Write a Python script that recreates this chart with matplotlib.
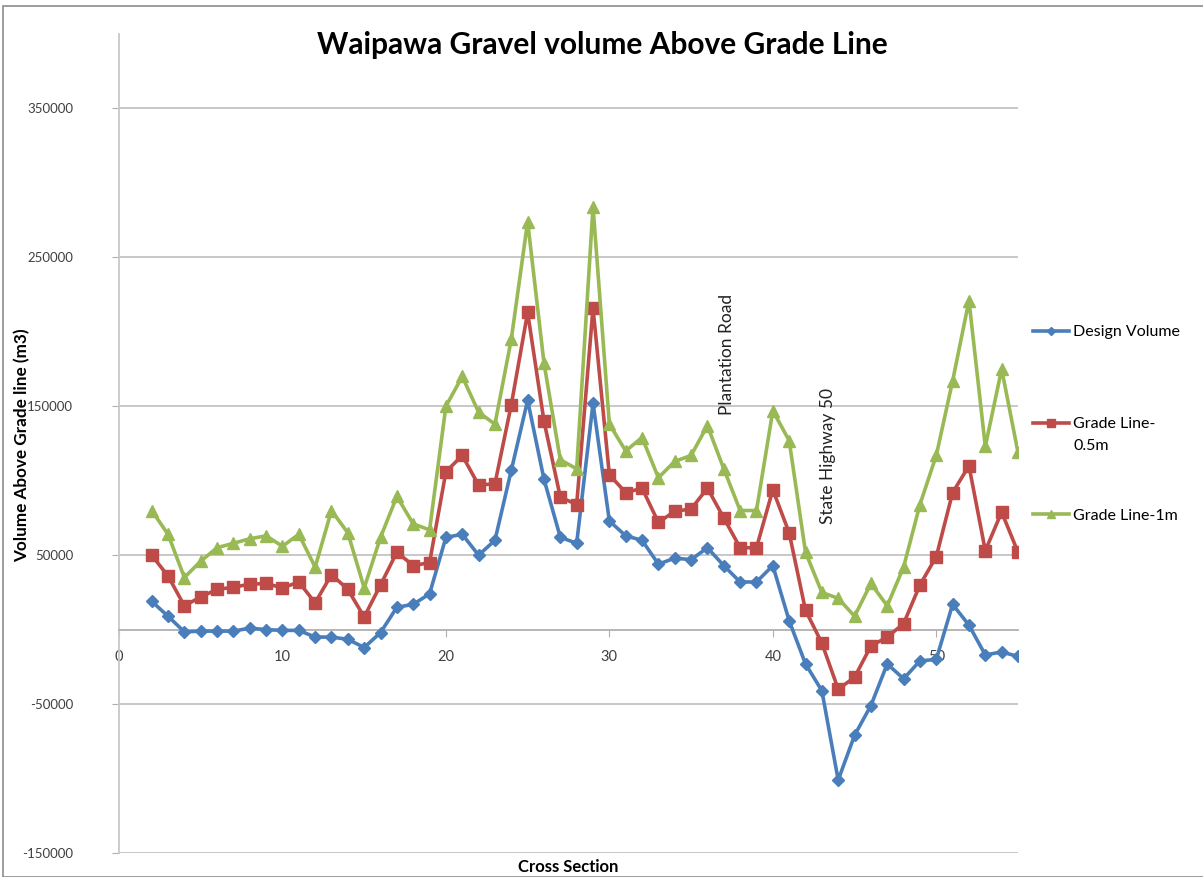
import matplotlib
matplotlib.use("Agg")
import matplotlib.pyplot as plt
from matplotlib.patches import Rectangle

plt.rcParams["font.family"] = ["Lato", "DejaVu Sans"]
plt.rcParams["axes.unicode_minus"] = False

# cross sections 2..55
sections = list(range(2, 56))

design_volume = [
    19000, 9000, -1500, -1000, -1000, -1000, 1000, 0, -500, -500,
    -5000, -5000, -6500, -12000, -2000, 15000, 17000, 24000, 62000, 64000,
    50000, 60000, 107000, 154000, 101000, 62000, 58000, 152000, 73000, 63000,
    60000, 44000, 48000, 47000, 55000, 43000, 32000, 32000, 43000, 6000,
    -23000, -41000, -101000, -71000, -51000, -23000, -33000, -21000, -20000, 17000,
    3000, -17000, -15000, -18000,
]

grade_half = [
    50000, 36000, 16000, 22000, 27000, 28500, 30500, 31000, 28000, 32000,
    18000, 37000, 27000, 8500, 30000, 52000, 43000, 45000, 106000, 117000,
    97000, 98000, 151000, 213000, 140000, 89000, 84000, 216000, 104000, 92000,
    95000, 72000, 79500, 81000, 95000, 75000, 55000, 55000, 94000, 65000,
    13000, -9000, -40000, -32000, -11000, -5000, 4000, 30000, 49000, 92000,
    110000, 53000, 79000, 52000,
]

grade_one = [
    80000, 64000, 35000, 46000, 55000, 58000, 61000, 63000, 56000, 64000,
    42000, 80000, 65000, 28000, 62000, 89500, 71000, 67000, 150000, 170000,
    146000, 138000, 195000, 274000, 179000, 114000, 108000, 284000, 138000, 120000,
    129000, 102000, 113000, 117000, 137000, 108000, 80000, 80000, 147000, 127000,
    52000, 25000, 21000, 9000, 31000, 16000, 42000, 84000, 117000, 167000,
    221000, 123000, 175000, 119000,
]

y_ticks = [-150000, -50000, 50000, 150000, 250000, 350000]
x_ticks = [0, 10, 20, 30, 40, 50]

fig = plt.figure(figsize=(12.03, 8.77), dpi=100)
ax = fig.add_axes([119 / 1203, 24 / 877, 899 / 1203, 819 / 877])

# chart frame
fig.patches.append(Rectangle((3 / 1203, 0), 1.2, 871 / 877, transform=fig.transFigure,
                             fill=False, edgecolor="#8c8c8c", linewidth=1.2))

ax.plot(sections, design_volume, color="#4a7ebb", lw=2.6, marker="D", ms=6,
        label="Design Volume", zorder=3)
ax.plot(sections, grade_half, color="#be4b48", lw=2.6, marker="s", ms=8.5,
        label="Grade Line-", zorder=3)
ax.plot(sections, grade_one, color="#98b954", lw=2.6, marker="^", ms=8.5,
        label="Grade Line-1m", zorder=3)

ax.set_xlim(0, 55)
ax.set_ylim(-150000, 400000)
ax.set_yticks(y_ticks)
ax.set_xticks(x_ticks)
ax.grid(axis="y", color="#c4c4c4", lw=1.3)
ax.set_axisbelow(True)

for s in ["top", "right"]:
    ax.spines[s].set_visible(False)
ax.spines["bottom"].set_position(("data", 0))
ax.spines["bottom"].set_color("#b0b0b0")
ax.spines["left"].set_color("#c8c8c8")
ax.spines["bottom"].set_linewidth(1.3)
ax.spines["left"].set_linewidth(1.3)

ax.tick_params(axis="y", length=5, color="#b0b0b0", labelsize=9.5, pad=28,
               labelcolor="#404040")
ax.tick_params(axis="x", length=5, color="#b0b0b0", labelsize=10.5, pad=10,
               labelcolor="#404040")

ax.text(37.2, 144000, "Plantation Road", rotation=90, fontsize=12.5,
        ha="center", va="bottom", color="#222222")
ax.text(43.4, 71000, "State Highway 50", rotation=90, fontsize=12.5,
        ha="center", va="bottom", color="#222222")

fig.text(602 / 1203, 1 - 45 / 877, "Waipawa Gravel volume Above Grade Line",
         ha="center", va="center", fontsize=21.5, fontweight="bold")
fig.text(22 / 1203, 1 - 445 / 877, "Volume Above Grade line (m3)", rotation=90,
         ha="center", va="center", fontsize=12.3, fontweight="bold")
fig.text(568 / 1203, 1 - 867 / 877, "Cross Section", ha="center", va="center",
         fontsize=12, fontweight="bold")

leg = fig.legend(loc="center left", bbox_to_anchor=(1019 / 1203, 1 - 424 / 877),
                 frameon=False, fontsize=11.5, labelspacing=4.85, handlelength=2.2,
                 handletextpad=0.3, markerscale=0.7)

# second line of the wrapped legend label, as Excel shows it
fig.canvas.draw()
bb = leg.get_texts()[1].get_window_extent()
fig.text(bb.x0 / 1203, (bb.y0 - 22) / 877, "0.5m", fontsize=11.5,
         ha="left", va="bottom")

fig.savefig("out.png", dpi=100)
